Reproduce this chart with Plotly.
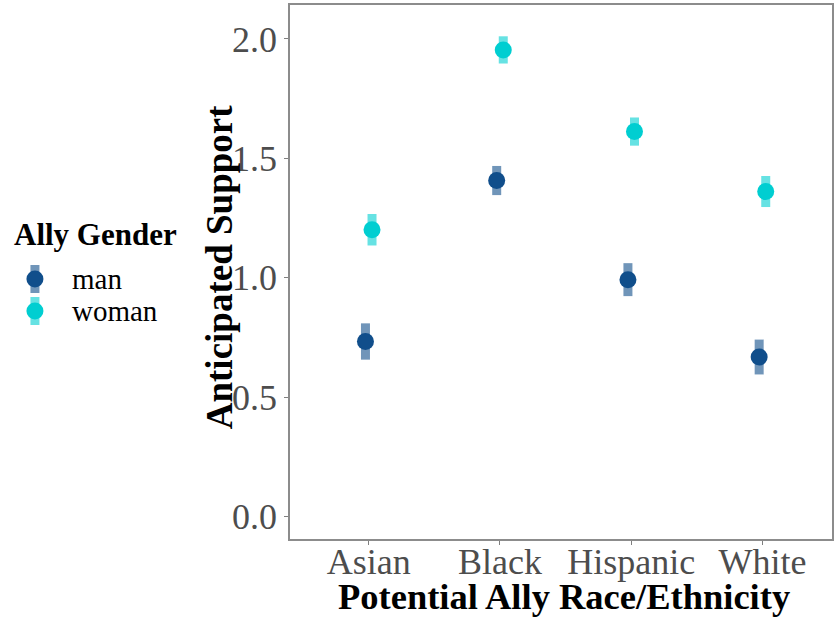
import plotly.graph_objects as go

# Anticipated support by potential ally race/ethnicity and gender
categories = ["Asian", "Black", "Hispanic", "White"]
genders = ["man", "woman"]
support_man = [0.733, 1.407, 0.992, 0.668]
support_woman = [1.201, 1.954, 1.612, 1.361]
se_man = [0.076, 0.061, 0.069, 0.073]
se_woman = [0.066, 0.057, 0.059, 0.065]
y_ticks = [0.0, 0.5, 1.0, 1.5, 2.0]

point_colors = {"man": "#104E8B", "woman": "#00CED1"}
bar_colors = {"man": "rgba(16,78,139,0.6)", "woman": "rgba(0,206,209,0.6)"}
dodge = {"man": -0.025, "woman": 0.025}

SERIF = "Liberation Serif, Times New Roman, serif"

# plot area in pixels
W, H = 835, 619
L, R, T, B = 290, 1, 5, 80
PW, PH = W - L - R, H - T - B


def px(x):
    return (x - L) / PW


def py(y):
    return 1 - (y - T) / PH


fig = go.Figure()
for g, vals, errs in [("man", support_man, se_man), ("woman", support_woman, se_woman)]:
    fig.add_trace(go.Scatter(
        x=[i + dodge[g] for i in range(len(categories))],
        y=vals,
        mode="markers",
        name=g,
        showlegend=False,
        marker=dict(color=point_colors[g], size=17, line=dict(width=0)),
        error_y=dict(type="data", array=errs, visible=True,
                     color=bar_colors[g], thickness=9, width=0),
    ))

annotations = [
    dict(text="<b>Anticipated Support</b>", textangle=-90,
         xref="paper", yref="paper", x=px(219), y=py(267),
         xanchor="center", yanchor="middle", showarrow=False,
         font=dict(size=37, family=SERIF, color="#000")),
    dict(text="<b>Potential Ally Race/Ethnicity</b>",
         xref="paper", yref="paper", x=px(565), y=py(619),
         xanchor="center", yanchor="bottom", showarrow=False,
         font=dict(size=36.5, family=SERIF, color="#000")),
    dict(text="<b>Ally Gender</b>",
         xref="paper", yref="paper", x=px(11), y=py(234),
         xanchor="left", yanchor="middle", showarrow=False,
         font=dict(size=31, family=SERIF, color="#000")),
]

# legend keys: translucent bar behind a solid dot, then the label
shapes = []
legend_rows = {"man": 279, "woman": 311}
for g in genders:
    cy = legend_rows[g]
    shapes.append(dict(
        type="rect", xref="paper", yref="paper",
        xsizemode="pixel", ysizemode="pixel",
        xanchor=px(34), yanchor=py(cy),
        x0=-4.5, x1=4.5, y0=-14, y1=14,
        fillcolor=bar_colors[g], line=dict(width=0), layer="above",
    ))
    shapes.append(dict(
        type="circle", xref="paper", yref="paper",
        xsizemode="pixel", ysizemode="pixel",
        xanchor=px(34), yanchor=py(cy),
        x0=-8.5, x1=8.5, y0=-8.5, y1=8.5,
        fillcolor=point_colors[g], line=dict(width=0), layer="above",
    ))
    annotations.append(dict(
        text=g, xref="paper", yref="paper", x=px(69), y=py(cy),
        xanchor="left", yanchor="middle", showarrow=False,
        font=dict(size=29, family=SERIF, color="#000"),
    ))

fig.update_layout(
    width=W, height=H,
    margin=dict(l=L, r=R, t=T, b=B),
    paper_bgcolor="white", plot_bgcolor="white",
    font=dict(family=SERIF, color="#000000"),
    showlegend=False,
    xaxis=dict(
        range=[-0.6, 3.53],
        tickmode="array", tickvals=list(range(len(categories))), ticktext=categories,
        tickfont=dict(size=36, family=SERIF, color="#4d4d4d"),
        ticks="outside", ticklen=4, tickcolor="#7f7f7f", tickwidth=1,
        ticklabelstandoff=-14,
        showline=True, linecolor="#8c8c8c", linewidth=1.5, mirror=True,
        showgrid=False, zeroline=False,
    ),
    yaxis=dict(
        range=[-0.094, 2.142],
        tickmode="array", tickvals=y_ticks, ticktext=[f"{v:.1f}" for v in y_ticks],
        tickfont=dict(size=36, family=SERIF, color="#4d4d4d"),
        ticks="outside", ticklen=4, tickcolor="#7f7f7f", tickwidth=1,
        showline=True, linecolor="#8c8c8c", linewidth=1.5, mirror=True,
        showgrid=False, zeroline=False,
    ),
    annotations=annotations,
    shapes=shapes,
)

fig.write_html("out.html")
